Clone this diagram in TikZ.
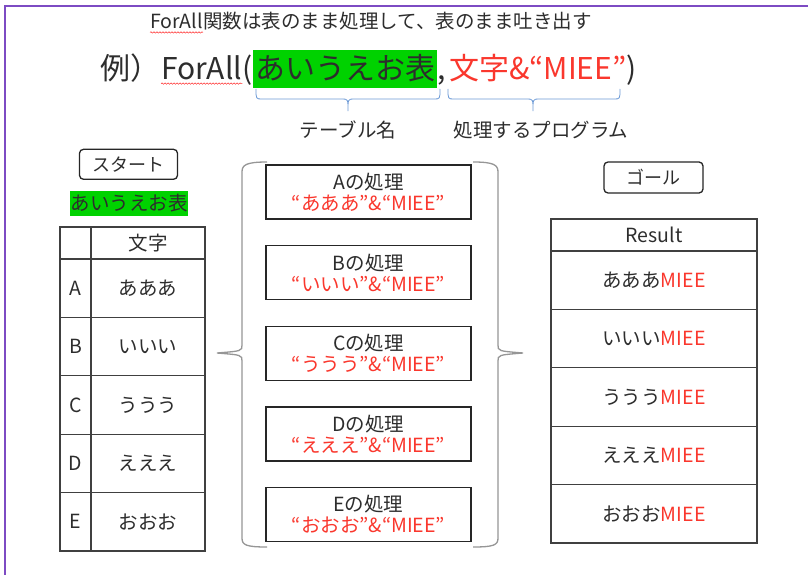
\documentclass[tikz,border=0pt]{standalone}
\usepackage{fontspec}
\setmainfont{Noto Sans CJK JP}
\usetikzlibrary{decorations.pathmorphing,calc}
\definecolor{txt}{RGB}{45,45,45}
\definecolor{redt}{RGB}{250,55,45}
\definecolor{hlgreen}{RGB}{0,210,0}
\definecolor{brblue}{RGB}{110,155,215}
\definecolor{brgray}{RGB}{150,150,150}
\definecolor{purp}{RGB}{125,75,195}
\begin{document}
\begin{tikzpicture}[x=1pt,y=-1pt,
  txtn/.style={inner sep=0pt, text=txt},
  fsA/.style={font=\fontsize{19.5}{22}\selectfont},
  fsB/.style={font=\fontsize{30}{34}\selectfont},
  fsC/.style={font=\fontsize{18}{22}\selectfont},
  fsD/.style={font=\fontsize{19.5}{22}\selectfont},
  rbox/.style={draw=black!85, line width=1.3pt, rounded corners=4pt, inner sep=0pt, text=txt, fsC},
  procbox/.style={draw=black!85, line width=1.4pt, minimum width=205pt, minimum height=54pt, inner sep=0pt, align=center, text=txt, fsD},
  cell/.style={draw=black!75, line width=1.2pt, inner sep=0pt, text=txt, fsD},
  wavy/.style={draw=red!85, line width=0.5pt, decorate, decoration={snake, amplitude=0.7pt, segment length=3pt}},
  brace/.style={draw=brblue, line width=0.8pt},
  bigbrace/.style={draw=brgray, line width=1.3pt}
]
\useasboundingbox (0,0) rectangle (808,575);
\fill[white] (0,0) rectangle (808,575);
\draw[purp, line width=2.5pt] (5,575) -- (5,6) -- (808,6);

% title line 1
\node[txtn, fsA, anchor=base west] (fa1) at (150,29) {ForAll};
\node[txtn, fsA, anchor=base west] (t1) at (fa1.base east) {関数は表のまま処理して、表のまま吐き出す};
\draw[wavy] ($(fa1.south west)+(0,3)$) -- ($(fa1.south east)+(0,3)$);

% line 2
\node[fill=hlgreen, inner sep=0pt, minimum width=184pt, minimum height=38pt, text height=26pt, text depth=4pt, fsB, text=txt] (hl) at (345,69) {あいうえお表};
\node[txtn, fsB, anchor=base east] (paren) at (hl.base west) {(};
\node[txtn, fsB, anchor=base east] (fa2) at (paren.base west) {ForAll};
\node[txtn, fsB, anchor=base east] (rei) at (fa2.base west) {例）};
\node[txtn, fsB, anchor=base west] (comma) at (hl.base east) {,};
\node[txtn, fsB, anchor=base west, text=redt] (prog) at ($(comma.base east)+(3,0)$) {文字\&“MIEE”};
\node[txtn, fsB, anchor=base west] (cparen) at (prog.base east) {)};
\draw[wavy] ($(fa2.south west)+(0,3)$) -- ($(fa2.south east)+(0,3)$);

% small braces
\draw[brace] (256,89) .. controls (256,99) .. (262,99) -- (342,99) .. controls (348,99) .. (348,111) .. controls (348,99) .. (354,99) -- (434,99) .. controls (440,99) .. (440,89);
\draw[brace] (448,89) .. controls (448,99) .. (454,99) -- (527,99) .. controls (533,99) .. (533,111) .. controls (533,99) .. (539,99) -- (614,99) .. controls (620,99) .. (620,89);
\node[txtn, fsD] (lbl1) at (348,130) {テーブル名};
\node[txtn, fsD] (lbl2) at (541,130) {処理するプログラム};

% left side
\node[rbox, minimum width=98pt, minimum height=30pt] (start) at (128.5,164.3) {スタート};
\node[fill=hlgreen, inner sep=0pt, minimum width=118pt, minimum height=25pt, text=txt, fsD] (tname) at (129,203.5) {あいうえお表};

\node[cell, minimum width=31pt, minimum height=32pt] (h0) at (75.5,243) {};
\node[cell, minimum width=114pt, minimum height=32pt] (h1) at (148,243) {文字};
\foreach \l/\v [count=\i] in {A/あああ, B/いいい, C/ううう, D/えええ, E/おおお} {
  \node[cell, minimum width=31pt, minimum height=58.4pt] (k\i) at (75.5,{259+58.4*(\i-0.5)}) {\l};
  \node[cell, minimum width=114pt, minimum height=58.4pt] (v\i) at (148,{259+58.4*(\i-0.5)}) {\v};
}

% big braces
\draw[bigbrace] (267,162) .. controls (246,162) and (242,165) .. (242,172) -- (242,345) .. controls (242,351) .. (217,353) .. controls (242,355) .. (242,361) -- (242,538) .. controls (242,545) and (246,547) .. (267,547);
\draw[bigbrace] (473,162) .. controls (494,162) and (498,165) .. (498,172) -- (498,345) .. controls (498,351) .. (523,353) .. controls (498,355) .. (498,361) -- (498,538) .. controls (498,545) and (494,547) .. (473,547);

% process boxes
\foreach \l/\v [count=\i] in {A/あああ, B/いいい, C/ううう, D/えええ, E/おおお} {
  \node[procbox] (p\i) at (368.5,{192+80.6*(\i-1)}) {\l の処理\\[-1pt]{\color{redt}“\v”\&“MIEE”}};
}

% right side
\node[rbox, minimum width=99pt, minimum height=31pt] (goal) at (653.5,177.5) {ゴール};
\node[cell, minimum width=206pt, minimum height=32pt] (rh) at (654,235) {Result};
\foreach \v [count=\i] in {あああ, いいい, ううう, えええ, おおお} {
  \node[cell, minimum width=206pt, minimum height=58.4pt] (r\i) at (654,{251+58.4*(\i-0.5)}) {\v{\color{redt}MIEE}};
}
\end{tikzpicture}
\end{document}
